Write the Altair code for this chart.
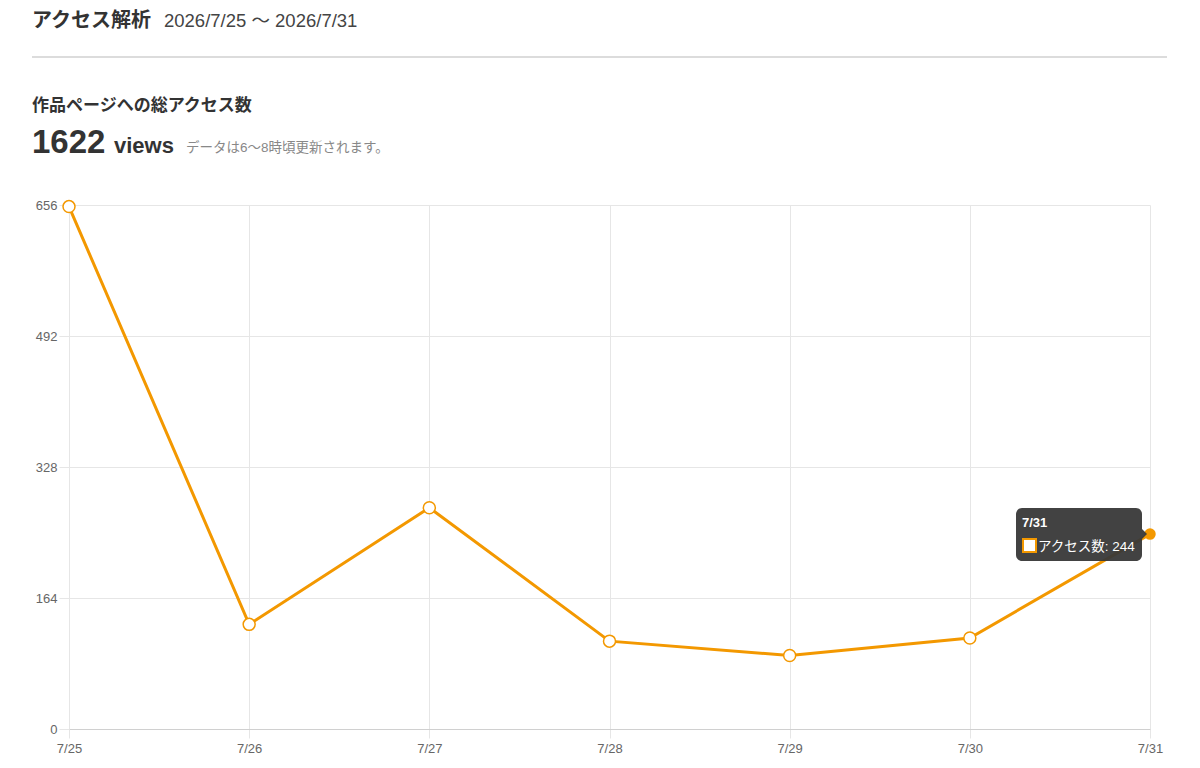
import altair as alt
import pandas as pd

# ---- data ----
dates = ["7/25", "7/26", "7/27", "7/28", "7/29", "7/30", "7/31"]
views = [654, 131, 277, 110, 92, 114, 244]
y_ticks = [0, 164, 328, 492, 656]
hover_date = "7/31"

title_main = ["アクセス解析"]
title_range = ["2026/7/25 〜 2026/7/31"]
section_title = ["作品ページへの総アクセス数"]
total_value = ["1622"]
total_unit = ["views"]
update_note = ["データは6〜8時頃更新されます。"]
series_label = "アクセス数"

ORANGE = "#f39800"
FONT = "Liberation Sans, Noto Sans CJK JP, sans-serif"
GRID = "#e6e6e6"

df = pd.DataFrame({"date": dates, "views": views})

x_enc = alt.X(
    "date:O", sort=dates,
    scale=alt.Scale(type="point", padding=0),
    axis=alt.Axis(title=None, labelAngle=0, grid=True, gridColor=GRID,
                  tickColor=GRID, tickSize=9, labelPadding=4, labelFontSize=13,
                  labelColor="#666", domainColor="#d0d0d0", labelFont=FONT),
)
y_enc = alt.Y(
    "views:Q",
    scale=alt.Scale(domain=[0, 656], nice=False, zero=True),
    axis=alt.Axis(title=None, values=y_ticks, grid=True, gridColor=GRID,
                  tickColor=GRID, tickSize=10, labelPadding=2, labelFontSize=13,
                  labelColor="#666", domain=False, labelFont=FONT),
)

base = alt.Chart(df).encode(x=x_enc, y=y_enc)

line = base.mark_line(color=ORANGE, strokeWidth=3)
points = base.transform_filter(alt.datum.date != hover_date).mark_point(
    shape="circle", filled=True, fill="white", stroke=ORANGE,
    strokeWidth=1.5, size=144, opacity=1)
hovered = base.transform_filter(alt.datum.date == hover_date).mark_point(
    shape="circle", filled=True, fill=ORANGE, stroke=ORANGE,
    size=90, opacity=1)

tip = base.transform_filter(alt.datum.date == hover_date).transform_calculate(
    body=f"'{series_label}: ' + datum.views")
tip_box = tip.mark_rect(width=126, height=53, xOffset=-71, yOffset=0.5,
                        cornerRadius=6, color="#383838", opacity=0.95)
tip_caret = tip.mark_point(shape="M-0.5,-1L0.5,0L-0.5,1Z", filled=True,
                           color="#383838", opacity=0.95, size=100, xOffset=-5.5)
tip_title = tip.mark_text(align="left", baseline="alphabetic", fontSize=13,
                          fontWeight="bold", color="white", font=FONT,
                          dx=-128, dy=-7).encode(text="date:N")
tip_square = tip.mark_point(shape="square", filled=True, fill="white",
                            stroke=ORANGE, strokeWidth=2, size=169, opacity=1,
                            xOffset=-120.5, yOffset=11.5)
tip_body = tip.mark_text(align="left", baseline="alphabetic", fontSize=13.5,
                         color="white", font=FONT, dx=-112, dy=17).encode(text="body:N")


def label(values, x, y, size, color="#333", weight="normal"):
    return alt.Chart(pd.DataFrame({"t": values})).mark_text(
        align="left", baseline="alphabetic", fontSize=size, fontWeight=weight,
        color=color, font=FONT).encode(x=alt.value(x), y=alt.value(y), text="t:N")


h1 = label(title_main, -37, -178, 20, "#333", "bold")
h2 = label(title_range, 95, -178, 18.5, "#444")
h3 = label(section_title, -37, -94, 17, "#333", "bold")
h4 = label(total_value, -37, -52, 33, "#333", "bold")
h5 = label(total_unit, 45, -52, 22, "#333", "bold")
h6 = label(update_note, 117, -53, 13.5, "#888")

divider = alt.Chart(pd.DataFrame({"a": [0]})).mark_rule(
    color="#dcdcdc", strokeWidth=2).encode(
    x=alt.value(-37), x2=alt.value(1098), y=alt.value(-148))

chart = alt.layer(
    line, points, hovered, tip_box, tip_caret, tip_title, tip_square, tip_body,
    h1, h2, h3, h4, h5, h6, divider,
).properties(
    width=1081, height=524,
    autosize=alt.AutoSizeParams(type="none"),
    padding={"left": 61, "top": 197, "right": 40, "bottom": 31},
    background="white",
).configure_view(stroke=None)

chart.save("out.html", embed_options={"renderer": "svg", "actions": False})
